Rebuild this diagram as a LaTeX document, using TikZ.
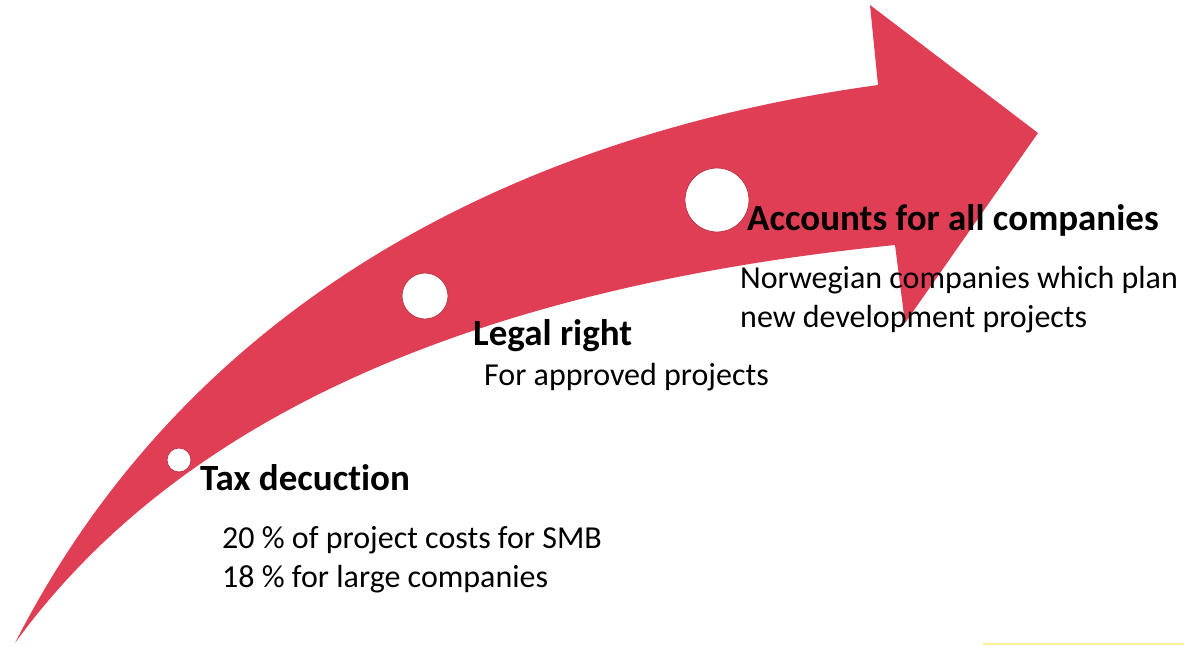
\documentclass[tikz,border=0pt]{standalone}
\usepackage{fontspec}
\setmainfont{Carlito}[Ligatures=NoCommon]
\definecolor{arrowred}{RGB}{224,62,85}
\definecolor{paleyellow}{RGB}{250,240,150}
\tikzset{
    head/.style={anchor=base west, inner sep=0pt, font=\fontsize{37}{40}\selectfont\bfseries},
    body/.style={anchor=base west, inner sep=0pt, align=left, font=\fontsize{32}{39}\selectfont},
    dot/.style={circle, fill=white, draw=arrowred!85!black, line width=0.8pt, inner sep=0pt}
}
\begin{document}
\begin{tikzpicture}[x=1pt,y=-1pt]
    \useasboundingbox (0,0) rectangle (1184,646);

    % curved arrow
    \fill[arrowred] (15,643) .. controls (200,280) and (550,130) .. (878,85)
        -- (870,5) -- (1038,133) -- (905,323) -- (895,245)
        .. controls (450,290) and (170,430) .. (15,643) -- cycle;

    % milestones
    \node[dot, minimum size=24pt] (d1) at (179,460) {};
    \node[dot, minimum size=46pt] (d2) at (425,296) {};
    \node[dot, minimum size=64pt] (d3) at (717,200) {};

    % texts (base of a two-line node is its last line)
    \node[head] (tax) at (200,490) {Tax decuction};
    \node[body] (taxtxt) at (222,587) {20 \% of project costs for SMB\\18 \% for large companies};
    \node[head] (legal) at (473,345) {Legal right};
    \node[body] (legaltxt) at (484,385) {For approved projects};
    \node[head] (acc) at (747,230) {Accounts for all companies};
    \node[body] (acctxt) at (740,327) {Norwegian companies which plan\\new development projects};

    \draw[paleyellow, line width=2pt] (983,644) -- (1184,644);
\end{tikzpicture}
\end{document}
